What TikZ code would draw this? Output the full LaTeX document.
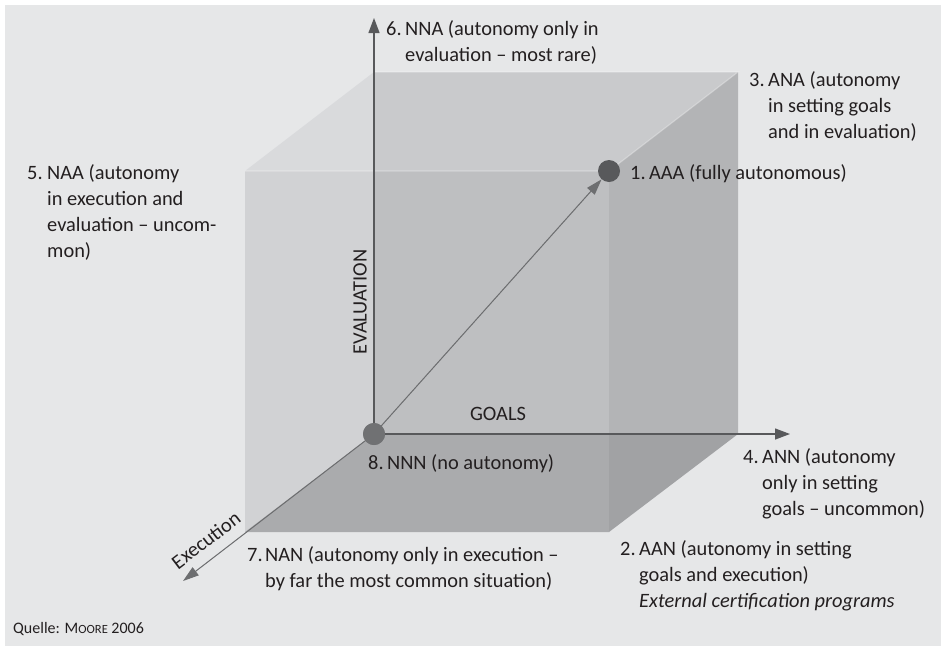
\documentclass[tikz,border=0pt]{standalone}
\usepackage{fontspec}
\setmainfont{Carlito}
\usetikzlibrary{arrows.meta}
\definecolor{bg}{HTML}{E6E7E8}
\definecolor{rA}{HTML}{D9DADC}
\definecolor{rB}{HTML}{D1D2D4}
\definecolor{rC}{HTML}{C9CACC}
\definecolor{rD}{HTML}{BEBFC1}
\definecolor{rE}{HTML}{B3B4B6}
\definecolor{rF}{HTML}{AAABAD}
\definecolor{rG}{HTML}{A1A2A4}
\definecolor{axdark}{HTML}{58595B}
\definecolor{axlight}{HTML}{6D6E70}
\definecolor{dotA}{HTML}{58595B}
\definecolor{dotB}{HTML}{707173}
\definecolor{txt}{HTML}{231F20}
\begin{document}
\begin{tikzpicture}[x=1pt,y=-1pt,
  lbl/.style={anchor=base west, inner sep=0pt, text=txt, font=\fontsize{20.4}{26}\selectfont},
  axlbl/.style={inner sep=0pt, text=txt, font=\fontsize{20.4}{26}\selectfont},
  dot/.style={circle, inner sep=0pt, minimum size=22pt},
  edge/.style={draw=white, draw opacity=0.3, line width=1.2pt},
  axisdark/.style={draw=axdark, line width=1.3pt, -{Triangle[length=15pt,width=11pt]}, fill=axdark},
  axislight/.style={draw=axlight, line width=1pt, -{Triangle[length=16pt,width=10pt]}, fill=axlight}]
\useasboundingbox (0,0) rectangle (941,646);
\fill[white] (0,0) rectangle (941,646);
\fill[bg] (5,5) rectangle (941,646);
% cube regions
\fill[rA] (245,171) -- (374,72) -- (374,171) -- cycle;
\fill[rB] (245,171) -- (374,171) -- (374,434) -- (245,532) -- cycle;
\fill[rC] (374,72) -- (738,72) -- (609,171) -- (374,171) -- cycle;
\fill[rD] (374,171) rectangle (609,434);
\fill[rE] (609,171) -- (738,72) -- (738,434) -- (609,434) -- cycle;
\fill[rF] (374,434) -- (609,434) -- (609,532) -- (245,532) -- cycle;
\fill[rG] (609,434) -- (738,434) -- (609,532) -- cycle;
\path[edge] (374,72) -- (738,72) -- (609,171) -- (245,171);
% dots
\node[dot, fill=dotA] (aaa) at (609,171) {};
\node[dot, fill=dotB] (nnn) at (374,434) {};
% axis ends
\coordinate (evalend) at (374,18);
\coordinate (goalend) at (790,434);
\coordinate (execend) at (183,581);
% axes
\draw[axisdark] (nnn.north) -- (evalend);
\draw[axisdark] (nnn.east) -- (goalend);
\draw[axislight] (nnn.center) -- (aaa);
\draw[axislight] (nnn.center) -- (execend);
\node[dot, fill=dotB] at (nnn) {};
% axis labels
\node[axlbl, rotate=90] (evallbl) at (360,302) {EVALUATION};
\node[axlbl, anchor=base] (goallbl) at (498,420) {GOALS};
\node[axlbl, rotate=37.4] (execlbl) at (206,540) {Execution};
% corner labels
\node[lbl] (l6) at (386,35) {\begin{tabular}[t]{@{}p{19pt}@{}l@{}}6.&NNA (autonomy only in\\&evaluation – most rare)\end{tabular}};
\node[lbl] (l5) at (27,179) {\begin{tabular}[t]{@{}p{20pt}@{}l@{}}5.&NAA (autonomy\\&in execution and\\&evaluation – uncom-\\&mon)\end{tabular}};
\node[lbl] (l3) at (749,86) {\begin{tabular}[t]{@{}p{19pt}@{}l@{}}3.&ANA (autonomy\\&in setting goals\\&and in evaluation)\end{tabular}};
\node[lbl] (l1) at (630,179) {1.\,AAA (fully autonomous)};
\node[lbl] (l4) at (743,463) {\begin{tabular}[t]{@{}p{19pt}@{}l@{}}4.&ANN (autonomy\\&only in setting\\&goals – uncommon)\end{tabular}};
\node[lbl] (l2) at (620,555) {\begin{tabular}[t]{@{}p{19pt}@{}l@{}}2.&AAN (autonomy in setting\\&goals and execution)\\&\itshape External certification programs\end{tabular}};
\node[lbl] (l7) at (247,561) {\begin{tabular}[t]{@{}p{18pt}@{}l@{}}7.&NAN (autonomy only in execution –\\&by far the most common situation)\end{tabular}};
\node[lbl] (l8) at (368,469) {8.\,NNN (no autonomy)};
\node[lbl, font=\fontsize{16}{20}\selectfont] (src) at (13,633) {Quelle: M{\fontsize{12.5}{20}\selectfont OORE} 2006};
\end{tikzpicture}
\end{document}
